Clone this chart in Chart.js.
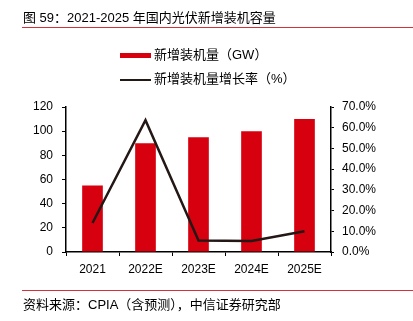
<!DOCTYPE html>
<html>
<head>
<meta charset="utf-8">
<script src="https://cdn.jsdelivr.net/npm/chart.js@4/dist/chart.umd.min.js"></script>
<style>
  html, body { margin: 0; padding: 0; background: #fff; }
  body { width: 413px; height: 321px; position: relative; overflow: hidden;
         font-family: "Liberation Sans", "Noto Sans CJK SC", sans-serif; color: #000; }
  #wrap { position: absolute; left: 0; top: 0; width: 413px; height: 321px; }
  .title { position: absolute; left: 23px; top: 9px; font-size: 13px; line-height: 18px; white-space: nowrap; }
  .rule { position: absolute; left: 22px; right: 0; height: 1px; background: #d3323a; }
  .footer { position: absolute; left: 23px; top: 296px; font-size: 13px; line-height: 18px; white-space: nowrap; }
  .legend { position: absolute; left: 120px; font-size: 13px; line-height: 18px; white-space: nowrap; }
  .legend .sw { display: inline-block; vertical-align: middle; width: 31px; margin-right: 3px; }
</style>
</head>
<body>
<div id="wrap"><canvas id="c" width="413" height="321"></canvas></div>
<div class="title" id="title"></div>
<div class="rule" style="top:27px"></div>
<div class="legend" id="lg0" style="top:46px"></div>
<div class="legend" id="lg1" style="top:70px"></div>
<div class="rule" style="top:290px"></div>
<div class="footer" id="footer"></div>
<script>
const titleText = "图 59：2021-2025 年国内光伏新增装机容量";
const sourceText = "资料来源：CPIA（含预测），中信证券研究部";
const categories = ["2021", "2022E", "2023E", "2024E", "2025E"];
const barLabel = "新增装机量（GW）";
const lineLabel = "新增装机量增长率（%）";
const capacityGW = [55, 90, 95, 100, 110];
const growthPct = [14.0, 63.6, 5.6, 5.3, 10.0];
const leftTicks = [0, 20, 40, 60, 80, 100, 120];
const rightTicks = [0, 10, 20, 30, 40, 50, 60, 70];

const RED = "#d7000f";
const DARK = "#231815";

document.getElementById("title").textContent = titleText;
document.getElementById("footer").textContent = sourceText;
function legendItem(id, label, swStyle) {
  const el = document.getElementById(id);
  const sw = document.createElement("span");
  sw.className = "sw";
  sw.setAttribute("style", swStyle);
  el.appendChild(sw);
  el.appendChild(document.createTextNode(label));
}
legendItem("lg0", barLabel, "height:5px;background:" + RED + ";");
legendItem("lg1", lineLabel, "height:2px;background:" + DARK + ";");

const tickFont = { family: "'Liberation Sans', Arial, sans-serif", size: 12 };

new Chart(document.getElementById("c"), {
  type: "bar",
  data: {
    labels: categories,
    datasets: [
      { type: "line", label: lineLabel, data: growthPct, yAxisID: "y1",
        borderColor: DARK, borderWidth: 2.5, pointRadius: 0, tension: 0, order: 0 },
      { type: "bar", label: barLabel, data: capacityGW, yAxisID: "y",
        backgroundColor: RED, barPercentage: 0.78, categoryPercentage: 0.5, order: 1 }
    ]
  },
  options: {
    responsive: false,
    animation: false,
    devicePixelRatio: 1,
    layout: { padding: { left: 0, right: 0, top: 107, bottom: 0 } },
    plugins: { legend: { display: false }, tooltip: { enabled: false } },
    scales: {
      x: {
        offset: true,
        grid: { display: true, drawOnChartArea: false, drawTicks: true, tickLength: 4, color: "#000", offset: true },
        border: { display: true, color: "#000", width: 1.5 },
        ticks: { color: "#000", font: tickFont, padding: 6, maxRotation: 0 },
        afterFit(s) { s.height = 69; }
      },
      y: {
        position: "left", min: 0, max: 120,
        afterBuildTicks(s) { s.ticks = leftTicks.map(v => ({ value: v })); },
        grid: { drawOnChartArea: false, drawTicks: true, tickLength: 4, color: "#000" },
        border: { display: true, color: "#000", width: 1.5 },
        ticks: { color: "#000", font: tickFont, padding: 9 },
        afterFit(s) { s.width = 66; }
      },
      y1: {
        position: "right", min: 0, max: 70,
        afterBuildTicks(s) { s.ticks = rightTicks.map(v => ({ value: v })); },
        grid: { drawOnChartArea: false, drawTicks: true, tickLength: 3, color: "#000" },
        border: { display: true, color: "#000", width: 1.5 },
        ticks: { color: "#000", font: tickFont, padding: 8, callback: v => v.toFixed(1) + "%" },
        afterFit(s) { s.width = 82; }
      }
    }
  }
});
</script>
</body>
</html>
